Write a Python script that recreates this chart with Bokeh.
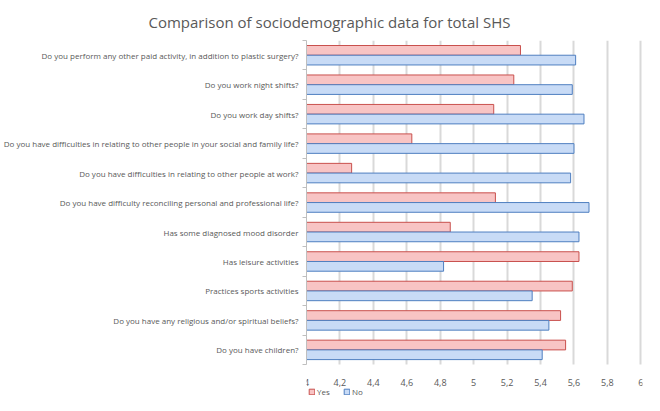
from bokeh.plotting import figure
from bokeh.models import (Range1d, FixedTicker, CustomJSTickFormatter, Legend, LegendItem,
                          ColumnDataSource, Title, BoxAnnotation)
from bokeh.embed import file_html
from bokeh.resources import INLINE

categories = [
    "Do you perform any other paid activity, in addition to plastic surgery?",
    "Do you work night shifts?",
    "Do you work day shifts?",
    "Do you have difficulties in relating to other people in your social and family life?",
    "Do you have difficulties in relating to other people at work?",
    "Do you have difficulty reconciling personal and professional life?",
    "Has some diagnosed mood disorder",
    "Has leisure activities",
    "Practices sports activities",
    "Do you have any religious and/or spiritual beliefs?",
    "Do you have children?",
]
yes_values = [5.28, 5.24, 5.12, 4.63, 4.27, 5.13, 4.86, 5.63, 5.59, 5.52, 5.55]
no_values = [5.61, 5.59, 5.66, 5.60, 5.58, 5.69, 5.63, 4.82, 5.35, 5.45, 5.41]
x_ticks = [4, 4.2, 4.4, 4.6, 4.8, 5, 5.2, 5.4, 5.6, 5.8, 6]
x_tick_labels = ["4", "4,2", "4,4", "4,6", "4,8", "5", "5,2", "5,4", "5,6", "5,8", "6"]
series_names = ["Yes", "No"]

TEXT = "#595959"
FONT = "Open Sans"
n = len(categories)
pos = [n - 1 - i for i in range(n)]
half = 0.165
bar_bottom = -0.5
bar_top = n - 0.5

src = ColumnDataSource(dict(
    y_yes=[p_ + half for p_ in pos],
    y_no=[p_ - half for p_ in pos],
    yes=yes_values,
    no=no_values,
))

p = figure(frame_width=336, frame_height=358, output_backend="svg", toolbar_location=None,
           x_range=Range1d(4, 6.01), y_range=Range1d(-1.65, bar_top),
           min_border_left=306, min_border_right=2, min_border_top=37, min_border_bottom=0)
p.outline_line_color = None
p.background_fill_color = "white"
p.border_fill_color = "white"

# hide grid lines below the bar area (tick-label / legend zone)
p.add_layout(BoxAnnotation(top=bar_bottom, fill_color="white", fill_alpha=1,
                           line_alpha=0, level="underlay"))

r_yes = p.hbar(y="y_yes", left=4, right="yes", height=0.33, source=src,
               fill_color="#f8c4c4", line_color="#c9504d", line_width=1)
r_no = p.hbar(y="y_no", left=4, right="no", height=0.33, source=src,
              fill_color="#c8dbf6", line_color="#4f7fc0", line_width=1)

# x axis, drawn at the bottom of the bar area
p.xaxis.fixed_location = bar_bottom
p.xaxis.ticker = FixedTicker(ticks=x_ticks)
p.xaxis.formatter = CustomJSTickFormatter(args=dict(tvals=x_ticks, tlabs=x_tick_labels), code="""
    for (let i = 0; i < tvals.length; i++) { if (Math.abs(tvals[i] - tick) < 1e-9) return tlabs[i]; }
    return '';
""")
p.xaxis.axis_line_color = None
p.xaxis.major_tick_line_color = None
p.xaxis.minor_tick_line_color = None
p.xaxis.major_label_text_font = FONT
p.xaxis.major_label_text_font_size = "9px"
p.xaxis.major_label_text_color = TEXT
p.xaxis.major_label_standoff = 8

p.xgrid.ticker = FixedTicker(ticks=x_ticks)
p.xgrid.grid_line_color = "#d9d9d9"
p.xgrid.grid_line_width = 2
p.ygrid.grid_line_color = None

# y axis
boundaries = [k - 0.5 for k in range(n + 1)]
p.yaxis.bounds = (bar_bottom, bar_top)
p.yaxis.ticker = FixedTicker(ticks=pos, minor_ticks=boundaries)
p.yaxis.major_label_overrides = {pos[i]: categories[i] for i in range(n)}
p.yaxis.major_tick_line_color = None
p.yaxis.minor_tick_line_color = "#bfbfbf"
p.yaxis.minor_tick_out = 4
p.yaxis.minor_tick_in = 0
p.yaxis.axis_line_color = "#bfbfbf"
p.yaxis.major_label_text_font = FONT
p.yaxis.major_label_text_font_size = "8px"
p.yaxis.major_label_text_color = TEXT
p.yaxis.major_label_standoff = 2

# title
title = Title(text="Comparison of sociodemographic data for total SHS", align="left",
              offset=-158, text_font=FONT, text_font_size="15px", text_color=TEXT,
              text_font_style="normal", standoff=18)
p.add_layout(title, "above")

legend = Legend(items=[LegendItem(label=series_names[0], renderers=[r_yes]),
                       LegendItem(label=series_names[1], renderers=[r_no])],
                orientation="horizontal", location=(2, 1),
                label_text_font=FONT, label_text_font_size="8px", label_text_color=TEXT,
                glyph_width=7, glyph_height=7, label_standoff=2, spacing=6,
                padding=1, margin=0, border_line_color=None, background_fill_alpha=0,
                label_height=8)
p.add_layout(legend, "center")

open("out.html", "w").write(file_html(p, INLINE))
